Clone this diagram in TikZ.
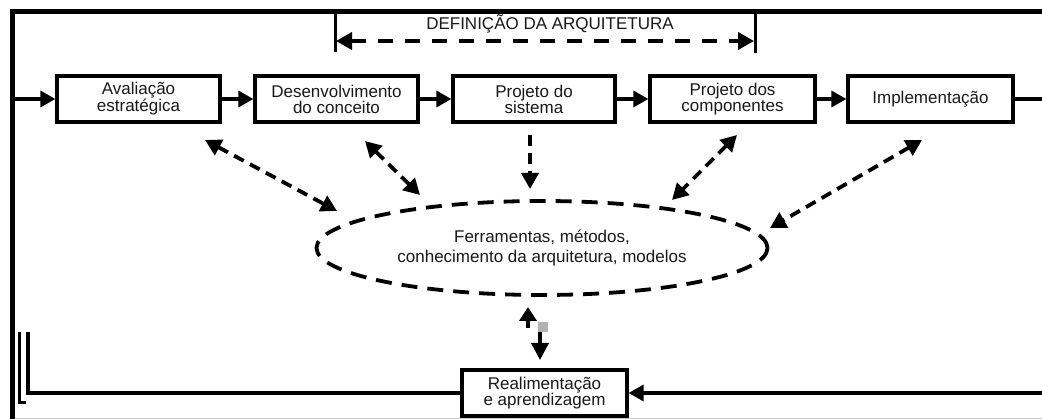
\documentclass[tikz,border=0pt]{standalone}
\usepackage{fontspec}
\setmainfont{Liberation Sans}
\usetikzlibrary{arrows.meta,shapes.geometric}
\begin{document}
\begin{tikzpicture}[x=1pt,y=-1pt,
  box/.style={draw=black,line width=3.2pt,minimum width=163pt,minimum height=46pt,inner sep=0pt,align=center,font=\fontsize{17}{16}\selectfont,text=black!90},
  solidcon/.style={line width=3.2pt,-{Triangle[length=15pt,width=16pt]}},
  plainline/.style={line width=3.2pt},
  dashcon/.style={line width=3.8pt,dash pattern=on 11pt off 7pt,{Triangle[length=16pt,width=17pt]}-{Triangle[length=16pt,width=17pt]}},
  dashone/.style={line width=3.8pt,dash pattern=on 11pt off 7pt,-{Triangle[length=16pt,width=17pt]}},
  frame/.style={line width=5pt,line join=miter},
  loopline/.style={line width=3.4pt,line join=miter}
]
\useasboundingbox (0,0) rectangle (1042,419);
\fill[white] (0,0) rectangle (1042,419);

% frame
\coordinate (fbl) at (12.5,419);
\coordinate (ftl) at (12.5,12);
\coordinate (ftr) at (1042,12);
\draw[frame] (fbl) -- (ftl) -- (ftr);
\coordinate (gl) at (15,418.5);
\coordinate (gr) at (1042,418.5);
\draw[black!20,line width=1pt] (gl) -- (gr);

% boxes
\node[box] (b1) at (138.5,99) {Avaliação\\estratégica};
\node[box] (b2) at (336.5,99) {Desenvolvimento\\do conceito};
\node[box,minimum width=162pt] (b3) at (534,99) {Projeto do\\sistema};
\node[box,minimum width=165pt] (b4) at (732.5,99) {Projeto dos\\componentes};
\node[box,minimum width=165pt] (b5) at (930.5,99) {Implementação};
\node[box,minimum width=165pt] (b6) at (544.5,393) {Realimentação\\e aprendizagem};

% main flow
\coordinate (lin) at (15,99);
\coordinate (rout) at (1042,99);
\draw[solidcon] (lin) -- (b1);
\draw[solidcon] (b1) -- (b2);
\draw[solidcon] (b2) -- (b3);
\draw[solidcon] (b3) -- (b4);
\draw[solidcon] (b4) -- (b5);
\draw[plainline] (b5) -- (rout);

% feedback loop
\coordinate (rin) at (1042,393);
\draw[solidcon] (rin) -- (b6.east);
\coordinate (lc) at (28,393);
\coordinate (lt) at (28,332);
\draw[loopline] (b6.west) -- (lc) -- (lt);
\coordinate (l2t) at (19.5,332);
\coordinate (l2b) at (19.5,402.5);
\coordinate (l2e) at (25.5,402.5);
\draw[line width=3pt,line join=miter] (l2t) -- (l2b) -- (l2e);

% definition of architecture
\node[font=\fontsize{17}{17}\selectfont,text=black!90,inner sep=0pt] (deftxt) at (550,24) {DEFINIÇÃO DA ARQUITETURA};
\coordinate (t1a) at (335,14);
\coordinate (t1b) at (335,52);
\coordinate (t2a) at (755,14);
\coordinate (t2b) at (755,53);
\draw[line width=3pt] (t1a) -- (t1b);
\draw[line width=3pt] (t2a) -- (t2b);
\coordinate (da) at (336,41);
\coordinate (db) at (754,41);
\draw[line width=3.8pt,dash pattern=on 15pt off 12pt,{Triangle[length=16pt,width=17pt]}-{Triangle[length=16pt,width=17pt]}] (da) -- (db);

% ellipse
\node[ellipse,draw=black,line width=3.8pt,dash pattern=on 16pt off 10pt,minimum width=451pt,minimum height=94pt,align=center,font=\fontsize{17}{20}\selectfont,text=black!90] (tools) at (542,248) {Ferramentas, métodos,\\conhecimento da arquitetura, modelos};

% dashed links
\coordinate (a1s) at (205,140);
\coordinate (a1e) at (337,211);
\draw[dashcon] (a1s) -- (a1e);
\coordinate (a2s) at (365,141);
\coordinate (a2e) at (420,195);
\draw[dashcon] (a2s) -- (a2e);
\coordinate (a3s) at (530,135);
\coordinate (a3e) at (530,189);
\draw[dashone] (a3s) -- (a3e);
\coordinate (a4s) at (737,135);
\coordinate (a4e) at (672,200);
\draw[dashcon] (a4s) -- (a4e);
\coordinate (a5s) at (922,140);
\coordinate (a5e) at (770,228);
\draw[dashcon] (a5s) -- (a5e);

% bottom link
\coordinate (u1) at (528,328);
\coordinate (u2) at (528,307);
\draw[line width=3.6pt,-{Triangle[length=14pt,width=17pt]}] (u1) -- (u2);
\coordinate (v1) at (540,331);
\coordinate (v2) at (540,360);
\draw[line width=3.6pt,dash pattern=on 12pt off 4pt,-{Triangle[length=17pt,width=17pt]}] (v1) -- (v2);
\fill[black!30] (537.5,322) rectangle (548,332);
\end{tikzpicture}
\end{document}
